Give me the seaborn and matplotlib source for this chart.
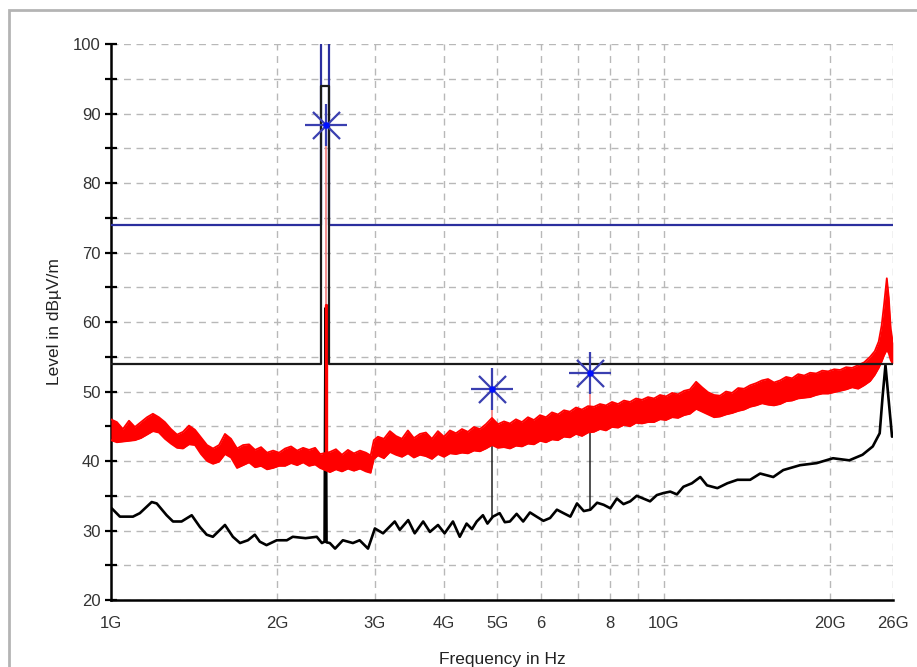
import seaborn as sns
import matplotlib.pyplot as plt
from matplotlib.patches import Rectangle
from matplotlib.ticker import FixedLocator, FixedFormatter, NullFormatter

# peak trace (red band), frequency in GHz, upper / lower edge in dBuV/m
red_f = [1.000, 1.025, 1.051, 1.078, 1.105, 1.133, 1.162, 1.191, 1.221, 1.252,
         1.284, 1.317, 1.350, 1.384, 1.419, 1.455, 1.492, 1.530, 1.569, 1.608,
         1.649, 1.691, 1.734, 1.778, 1.823, 1.869, 1.916, 1.965, 2.015, 2.066,
         2.118, 2.172, 2.227, 2.283, 2.341, 2.390,
         2.490, 2.553, 2.618, 2.684, 2.752, 2.822, 2.893, 2.950,
         2.990, 3.041, 3.118, 3.197, 3.278, 3.361, 3.446, 3.533, 3.623, 3.714,
         3.808, 3.905, 4.004, 4.105, 4.209, 4.316, 4.425, 4.537, 4.652, 4.770,
         4.891, 5.015, 5.142, 5.272, 5.405, 5.542, 5.682, 5.826, 5.974, 6.125,
         6.280, 6.439, 6.602, 6.769, 6.941, 7.116, 7.297, 7.481, 7.671, 7.865,
         8.064, 8.269, 8.478, 8.693, 8.913, 9.139, 9.370, 9.607, 9.851, 10.10,
         10.36, 10.62, 10.89, 11.16, 11.45, 11.74, 12.03, 12.34, 12.65, 12.97,
         13.30, 13.64, 13.98, 14.34, 14.70, 15.07, 15.45, 15.84, 16.25, 16.66,
         17.08, 17.51, 17.96, 18.41, 18.88, 19.36, 19.85, 20.35, 20.86, 21.39,
         21.93, 22.49, 23.06, 23.64, 24.10, 24.50, 24.80, 25.05, 25.34, 25.55, 25.76, 25.98]
red_hi = [46.0, 45.6, 44.6, 45.8, 44.9, 45.6, 46.3, 46.8, 46.3, 45.6,
          44.6, 43.8, 44.2, 45.1, 44.5, 43.4, 42.3, 41.8, 42.3, 43.9,
          43.2, 41.8, 42.3, 42.4, 41.6, 42.0, 41.2, 41.5, 41.2, 41.8,
          42.1, 41.5, 41.9, 41.6, 41.9, 41.0,
          41.3, 41.7, 40.9, 41.6, 41.1, 41.5, 41.2, 40.8,
          43.0, 43.5, 43.2, 44.3, 43.6, 43.2, 44.4, 43.3, 43.9, 44.1,
          43.2, 44.3, 43.5, 44.4, 44.0, 44.6, 44.2, 44.9, 44.6, 45.3,
          46.2, 45.3, 45.7, 45.4, 46.0, 45.6, 46.3, 45.9, 46.6, 46.3,
          47.0, 46.7, 47.3, 47.1, 47.7, 47.4, 47.9, 47.8, 48.2, 48.0,
          48.5, 48.2, 48.7, 48.5, 49.0, 48.8, 49.2, 49.0, 49.5, 49.3,
          49.8, 49.6, 50.1, 50.3, 51.4, 50.6, 49.9, 49.5, 49.4, 50.0,
          49.8, 50.5, 50.4, 50.9, 51.2, 51.6, 51.8, 51.3, 51.6, 52.1,
          51.9, 52.5, 52.3, 52.7, 52.6, 53.0, 52.9, 53.2, 53.1, 53.5,
          53.4, 53.8, 54.2, 55.0, 55.8, 57.2, 59.5, 62.5, 66.3, 63.5, 59.0, 57.0]
red_lo = [43.0, 42.7, 42.8, 42.9, 43.0, 43.3, 43.8, 44.3, 44.1, 43.2,
          42.5, 41.9, 41.8, 42.4, 42.3, 41.0, 40.0, 39.6, 39.9, 41.0,
          40.5, 39.0, 39.4, 39.8, 39.1, 39.3, 38.8, 39.0, 39.3, 39.3,
          39.7, 39.4, 39.8, 39.3, 39.5, 39.0,
          38.4, 38.8, 38.5, 38.9, 38.6, 38.9, 38.5, 38.3,
          40.3, 40.8, 40.4, 41.3, 40.9, 40.6, 41.1, 40.5, 40.9, 40.7,
          40.3, 41.0, 40.6, 41.1, 41.0, 41.2, 41.1, 41.5, 41.4, 41.8,
          42.3, 41.9, 42.0, 41.8, 42.2, 42.1, 42.5, 42.4, 42.9, 42.7,
          43.1, 43.0, 43.5, 43.4, 43.9, 43.6, 44.1, 44.2, 44.6, 44.4,
          44.9, 44.8, 45.2, 45.0, 45.5, 45.4, 45.6, 45.6, 46.0, 45.9,
          46.3, 46.2, 46.6, 46.8, 47.5, 47.1, 46.7, 46.3, 46.4, 46.7,
          46.9, 47.2, 47.4, 47.8, 48.0, 48.3, 48.1, 48.0, 48.2, 48.6,
          48.7, 49.0, 49.1, 49.2, 49.5, 49.7, 49.7, 49.9, 50.1, 50.3,
          50.6, 50.4, 50.9, 51.5, 52.4, 53.4, 54.3, 55.2, 56.0, 55.5, 54.5, 54.0]

# average trace (black)
avg_f = [1.003, 1.038, 1.096, 1.128, 1.185, 1.210, 1.261, 1.295, 1.342, 1.400, 1.449, 1.490,
         1.529, 1.608, 1.662, 1.712, 1.769, 1.821, 1.859, 1.912, 1.995, 2.081, 2.133, 2.250,
         2.357, 2.408, 2.435, 2.445, 2.455, 2.489, 2.544, 2.628, 2.740, 2.818, 2.918, 2.962,
         3.003, 3.107, 3.262, 3.331, 3.450, 3.545, 3.672, 3.777, 3.906, 4.015, 4.157, 4.277,
         4.40, 4.50, 4.59, 4.71, 4.80, 4.91, 5.05, 5.16, 5.27, 5.42, 5.57, 5.73, 5.89, 6.06,
         6.23, 6.41, 6.59, 6.78, 6.97, 7.17, 7.37, 7.58, 7.79, 8.01, 8.23, 8.46, 8.70, 8.94,
         9.19, 9.45, 9.72, 10.0, 10.28, 10.57, 10.86, 11.25, 11.65, 11.98, 12.51, 13.04, 13.60,
         14.34, 14.95, 15.79, 16.46, 17.65, 18.92, 20.25, 21.67, 22.90, 23.90, 24.60, 24.90,
         25.20, 25.50, 25.90]
avg_lvl = [33.2, 32.0, 32.0, 32.5, 34.1, 33.9, 32.2, 31.3, 31.3, 32.2, 30.5, 29.4,
           29.1, 30.8, 29.1, 28.2, 28.6, 29.4, 28.4, 27.9, 28.6, 28.6, 29.1, 28.9,
           29.1, 28.2, 28.4, 62.0, 28.3, 28.2, 27.4, 28.6, 28.2, 28.6, 27.4, 28.9,
           30.3, 29.6, 31.3, 30.1, 31.5, 29.6, 31.3, 29.8, 30.8, 29.6, 31.3, 29.1,
           31.0, 30.2, 31.3, 32.2, 31.0, 32.0, 32.5, 31.2, 31.3, 32.4, 31.3, 32.6, 32.0, 31.4,
           31.8, 33.0, 32.5, 32.0, 33.9, 32.8, 33.0, 34.0, 33.7, 33.2, 34.6, 33.8, 34.2, 35.0,
           34.6, 34.2, 35.1, 35.4, 35.6, 35.2, 36.3, 36.8, 37.7, 36.5, 36.1, 36.8, 37.3,
           37.3, 38.2, 37.7, 38.7, 39.4, 39.7, 40.4, 40.1, 40.9, 42.1, 44.0, 49.3,
           53.8, 49.3, 43.5]

# limit lines
lim_f = [1.0, 2.4, 2.4, 2.4835, 2.4835, 26.0]
lim_peak = [74, 74, 120, 120, 74, 74]
lim_avg = [54, 54, 94, 94, 54, 54]

# markers: frequency, peak level, average level, top of red band
mk_f = [2.45, 4.90, 7.35]
mk_peak = [88.3, 50.4, 52.6]
mk_avg = [28.3, 32.0, 33.0]
mk_band = [62.5, 44.0, 47.0]

xticks = [1, 2, 3, 4, 5, 6, 7, 8, 9, 10, 20, 26]
xlabels = ["1G", "2G", "3G", "4G", "5G", "6", "", "8", "", "10G", "20G", "26G"]

sns.set_style("white")
plt.rcParams['font.family'] = ['Liberation Sans', 'DejaVu Sans']

fig = plt.figure(figsize=(9.17, 6.67), dpi=100)
ax = fig.add_axes([0.121, 0.1004, 0.8528, 0.8336])
fig.patches.append(Rectangle((9 / 917, -0.05), 1.0, 1 - 10 / 667 + 0.05,
                             transform=fig.transFigure, fill=False,
                             edgecolor="#b4b4b4", linewidth=2))

grey = "#b8b8b8"
for y in range(20, 101, 5):
    ax.axhline(y, color=grey, lw=1, ls=(0, (5, 4)), zorder=0)
for x in xticks[1:]:
    ax.axvline(x, color=grey, lw=1, ls=(0, (5, 4)), zorder=0)

# marker stems
for f, pk, av, bd in zip(mk_f, mk_peak, mk_avg, mk_band):
    ax.plot([f, f], [av, bd], color="#202020", lw=1.1, zorder=2)
    ax.plot([f, f], [bd, pk], color="#f07070", lw=1.1, zorder=2)

# peak trace band
ax.fill_between(red_f, red_lo, red_hi, color="#ff0000", lw=0, zorder=3)
sns.lineplot(x=red_f, y=red_hi, color="#ff0000", lw=1.3, ax=ax, zorder=3)
sns.lineplot(x=red_f, y=red_lo, color="#ff0000", lw=1.3, ax=ax, zorder=3)
ax.plot([mk_f[0], mk_f[0]], [40, mk_band[0]], color="#ff0000", lw=2.4, zorder=3)

sns.lineplot(x=avg_f, y=avg_lvl, color="black", lw=1.9, ax=ax, zorder=2.5,
             estimator=None, sort=False)

sns.lineplot(x=lim_f, y=lim_peak, color="#2b2f9e", lw=1.6, ax=ax, zorder=4,
             estimator=None, sort=False)
sns.lineplot(x=lim_f, y=lim_avg, color="#1a1a1a", lw=1.6, ax=ax, zorder=4,
             estimator=None, sort=False)

# asterisk markers
ax.scatter(mk_f, mk_peak, marker="+", s=900, color="#3a3fb0", linewidths=1.6, zorder=5)
ax.scatter(mk_f, mk_peak, marker="x", s=380, color="#3a3fb0", linewidths=1.6, zorder=5)
ax.scatter(mk_f, mk_peak, marker="o", s=22, color="#0010ff", linewidths=0, zorder=6)

ax.set_xscale("log")
ax.set_xlim(1, 26)
ax.set_ylim(20, 100)
ax.xaxis.set_major_locator(FixedLocator(xticks))
ax.xaxis.set_major_formatter(FixedFormatter(xlabels))
ax.xaxis.set_minor_locator(FixedLocator([]))
ax.xaxis.set_minor_formatter(NullFormatter())
ax.set_yticks(range(20, 101, 10))
ax.set_yticks(range(25, 100, 10), minor=True)

for s in ["top", "right"]:
    ax.spines[s].set_visible(False)
for s in ["left", "bottom"]:
    ax.spines[s].set_color("black")
    ax.spines[s].set_linewidth(1.8)

ax.tick_params(axis="x", which="major", direction="inout", length=11, width=1.6,
               labelsize=12, colors="black", labelcolor="#333333", pad=6)
ax.tick_params(axis="y", which="both", direction="inout", length=9, width=1.6,
               labelsize=12, colors="black", labelcolor="#333333", pad=3, left=True)
ax.tick_params(axis="y", which="minor", left=True)

ax.set_xlabel("Frequency in Hz", fontsize=12.5, color="#222222", labelpad=15)
ax.set_ylabel("Level in dBµV/m", fontsize=12.5, color="#222222", labelpad=8)

fig.savefig("out.png", dpi=100)
